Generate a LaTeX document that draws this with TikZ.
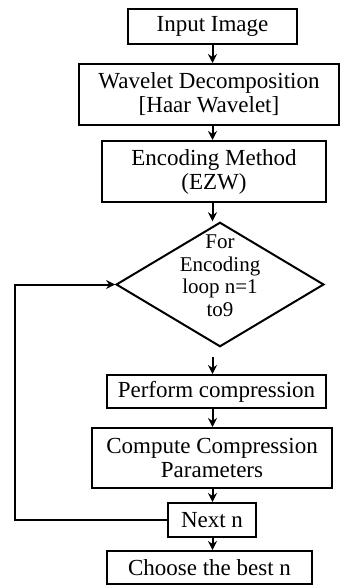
\documentclass[tikz,border=0pt]{standalone}
\usepackage{fontspec}
\setmainfont{Liberation Serif}
\usetikzlibrary{arrows.meta,shapes.geometric}

\begin{document}
\begin{tikzpicture}[x=1pt,y=-1pt,
  every node/.style={draw,line width=2pt,inner sep=1pt,align=center,
    font=\fontsize{23}{24}\selectfont},
  box/.style={rectangle},
  decision/.style={diamond,aspect=1.67,inner sep=-7.2pt,
    font=\fontsize{21}{22.5}\selectfont},
  flow/.style={-{Stealth[length=9pt,width=9pt]},line width=2pt}]
  \useasboundingbox (0,0) rectangle (340,585);

  % steps of the main chain
  \node[box,minimum width=169pt,minimum height=35pt] (input) at (212.5,26.5) {Input Image};
  \node[box,minimum width=260pt,minimum height=61pt] (wavelet) at (209,94.5) {Wavelet Decomposition\\{}[Haar Wavelet]};
  \node[box,minimum width=224pt,minimum height=61pt] (encoding) at (214,171.5) {Encoding Method\\(EZW)};
  \node[decision] (loop) at (220,284.5) {For\\Encoding\\loop n=1\\to9\rule[-18pt]{0pt}{18pt}};
  \node[box,minimum width=219pt,minimum height=33pt] (perform) at (216.5,391.5) {Perform compression};
  \node[box,minimum width=240pt,minimum height=60pt] (compute) at (212,458) {Compute Compression\\Parameters};
  \node[box,minimum width=88pt,minimum height=34pt] (next) at (212,520) {Next n};
  \node[box,minimum width=205pt,minimum height=33pt] (choose) at (209.5,567.5) {Choose the best n};

  % downward arrows
  \draw[flow] (input.south) -- (input.south |- wavelet.north);
  \draw[flow] (wavelet.south -| input.south) -- (encoding.north -| input.south);
  \draw[flow] (encoding.south -| input.south) -- (input.south |- loop.north);
  \draw[flow,shorten <=9pt] (loop.south -| input.south) -- (perform.north -| input.south);
  \draw[flow] (perform.south -| input.south) -- (compute.north -| input.south);
  \draw[flow] (compute.south -| input.south) -- (next.north -| input.south);
  \draw[flow] (next.south -| input.south) -- (choose.north -| input.south);

  % back edge of the loop
  \coordinate (back) at (15,288);
  \draw[flow] (next.west) -- (next.west -| back) |- (loop.west);
\end{tikzpicture}
\end{document}
